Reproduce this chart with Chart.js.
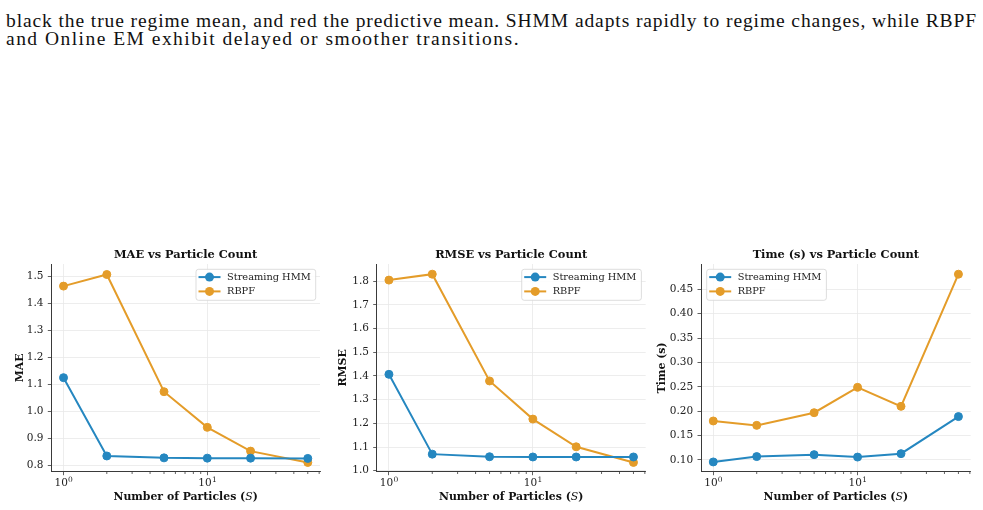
<!DOCTYPE html>
<html><head><meta charset="utf-8">
<script src="https://cdn.jsdelivr.net/npm/chart.js@4"></script>
<style>
html,body{margin:0;padding:0;background:#fff;}
body{width:983px;height:510px;overflow:hidden;position:relative;}
.cap{position:absolute;left:6px;font-family:"Liberation Serif","Times New Roman",serif;font-size:19.5px;line-height:20px;color:#111;white-space:nowrap;}
#l1{top:11px;}
#l2{top:28.5px;}
canvas{position:absolute;top:240px;}
</style></head><body>
<div class="cap" id="l1" data-w="971">black the true regime mean, and red the predictive mean. SHMM adapts rapidly to regime changes, while RBPF</div>
<div class="cap" id="l2" data-w="514">and Online EM exhibit delayed or smoother transitions.</div>
<canvas id="c1" width="330" height="270" style="left:0px"></canvas>
<canvas id="c2" width="325" height="270" style="left:330px"></canvas>
<canvas id="c3" width="328" height="270" style="left:655px"></canvas>
<script>
// ---------- data ----------
const particles = [1, 2, 5, 10, 20, 50];
const seriesNames = ['Streaming HMM', 'RBPF'];
const maeSHMM  = [1.126, 0.836, 0.829, 0.828, 0.828, 0.827];
const maeRBPF  = [1.465, 1.508, 1.074, 0.942, 0.854, 0.812];
const rmseSHMM = [1.407, 1.070, 1.059, 1.058, 1.058, 1.058];
const rmseRBPF = [1.805, 1.830, 1.379, 1.218, 1.101, 1.035];
const timeSHMM = [0.096, 0.107, 0.111, 0.106, 0.113, 0.189];
const timeRBPF = [0.180, 0.171, 0.197, 0.249, 0.210, 0.481];
const maeTicks  = [0.8, 0.9, 1.0, 1.1, 1.2, 1.3, 1.4, 1.5];
const rmseTicks = [1.0, 1.1, 1.2, 1.3, 1.4, 1.5, 1.6, 1.7, 1.8];
const timeTicks = [0.10, 0.15, 0.20, 0.25, 0.30, 0.35, 0.40, 0.45];
const xMajorTicks = [1, 10];
const xTickBase = ['10', '10'];
const xTickExp = ['0', '1'];
const xMinorTicks = [2, 3, 4, 5, 6, 7, 8, 9, 20, 30, 40, 50, 60];
const titles = ['MAE vs Particle Count', 'RMSE vs Particle Count', 'Time (s) vs Particle Count'];
const yLabels = ['MAE', 'RMSE', 'Time (s)'];
const xLabelParts = ['Number of Particles (', 'S', ')'];

// ---------- caption fitting ----------
document.querySelectorAll('.cap').forEach(el => {
  const target = +el.dataset.w;
  const nat = el.getBoundingClientRect().width;
  const n = el.textContent.length;
  el.style.letterSpacing = ((target - nat) / n) + 'px';
});

// ---------- styling ----------
const BLUE = '#2587c0';
const ORANGE = '#e49c29';
const AXIS = '#3a3a3a';
const GRID = '#e9e9e9';
const FONT = '"DejaVu Serif", serif';

const panels = [
  {id:'c1', canvasLeft:0,   width:330, chartLeft:51.3,  chartRight:320,   yTitleC:19.8,  ymin:0.7778, ymax:1.5469, ticks:maeTicks,  dec:1, a:maeSHMM,  b:maeRBPF,  legend:'right'},
  {id:'c2', canvasLeft:330, width:325, chartLeft:376.7, chartRight:645.7, yTitleC:343.3, ymin:0.9958, ymax:1.873,  ticks:rmseTicks, dec:1, a:rmseSHMM, b:rmseRBPF, legend:'right'},
  {id:'c3', canvasLeft:655, width:328, chartLeft:701,   chartRight:970.7, yTitleC:661.8, ymin:0.076,  ymax:0.5019, ticks:timeTicks, dec:2, a:timeSHMM, b:timeRBPF, legend:'left'}
];
const TOP = 264, BOTTOM = 471.7, CANVAS_TOP = 240, CANVAS_H = 270;

const decor = {
  id: 'decor',
  afterDraw(chart, args, opts) {
    const {ctx, chartArea: a} = chart;
    const xs = chart.scales.x;
    ctx.save();
    // minor x ticks
    ctx.strokeStyle = AXIS; ctx.lineWidth = 0.8;
    xMinorTicks.forEach(v => {
      if (v < xs.min || v > xs.max) return;
      const px = xs.getPixelForValue(v);
      ctx.beginPath(); ctx.moveTo(px, a.bottom); ctx.lineTo(px, a.bottom + 2.3); ctx.stroke();
    });
    // major x tick labels with superscript exponent
    ctx.fillStyle = '#222'; ctx.textBaseline = 'alphabetic'; ctx.textAlign = 'left';
    xMajorTicks.forEach((v, i) => {
      const px = xs.getPixelForValue(v);
      ctx.font = '10.5px ' + FONT; const wb = ctx.measureText(xTickBase[i]).width;
      ctx.font = '7.5px ' + FONT; const we = ctx.measureText(xTickExp[i]).width;
      const x0 = px - (wb + we) / 2;
      ctx.font = '10.5px ' + FONT; ctx.fillText(xTickBase[i], x0, 246.3);
      ctx.font = '7.5px ' + FONT; ctx.fillText(xTickExp[i], x0 + wb + 0.3, 242.2);
    });
    // title
    ctx.fillStyle = '#111';
    ctx.font = 'bold 11.4px ' + FONT;
    ctx.textAlign = 'center'; ctx.textBaseline = 'middle';
    ctx.fillText(opts.title, (a.left + a.right) / 2, 14.6);
    // x label (mixed style)
    const fonts = ['bold 10.9px ' + FONT, 'italic 10.9px ' + FONT, 'bold 10.9px ' + FONT];
    let widths = xLabelParts.map((t, i) => { ctx.font = fonts[i]; return ctx.measureText(t).width; });
    let total = widths.reduce((s, w) => s + w, 0);
    let x = (a.left + a.right) / 2 - total / 2;
    ctx.textAlign = 'left';
    xLabelParts.forEach((t, i) => { ctx.font = fonts[i]; ctx.fillText(t, x, 257.5); x += widths[i]; });
    // legend
    const ds = chart.data.datasets;
    ctx.font = '9.8px ' + FONT;
    const tw = Math.max(...ds.map(d => ctx.measureText(d.label).width));
    const w = tw + 36, h = 31;
    const bx = opts.legend === 'right' ? a.right - 4.3 - w : a.left + 5.7;
    const by = a.top + 5.3;
    ctx.beginPath();
    ctx.roundRect(bx, by, w, h, 2.5);
    ctx.fillStyle = 'rgba(255,255,255,0.85)'; ctx.fill();
    ctx.strokeStyle = '#d4d4d4'; ctx.lineWidth = 0.8; ctx.stroke();
    ds.forEach((d, i) => {
      const yy = by + 7.8 + i * 14.3;
      ctx.strokeStyle = d.borderColor; ctx.lineWidth = 2;
      ctx.beginPath(); ctx.moveTo(bx + 2.5, yy); ctx.lineTo(bx + 24.5, yy); ctx.stroke();
      ctx.fillStyle = d.borderColor;
      ctx.beginPath(); ctx.arc(bx + 13.5, yy, 4.5, 0, Math.PI * 2); ctx.fill();
      ctx.fillStyle = '#222'; ctx.textAlign = 'left'; ctx.textBaseline = 'middle';
      ctx.fillText(d.label, bx + 31, yy + 0.5);
    });
    ctx.restore();
  }
};

panels.forEach((p, k) => {
  const yw = p.chartLeft - p.canvasLeft;
  const pr = p.canvasLeft + p.width - p.chartRight;
  const xh = CANVAS_TOP + CANVAS_H - BOTTOM;
  const yTitleFont = 10.9, lh = yTitleFont * 1.2;
  const mk = (vals, name, color) => ({
    label: name,
    data: particles.map((x, i) => ({x: x, y: vals[i]})),
    borderColor: color, backgroundColor: color,
    pointBackgroundColor: color, pointBorderColor: color,
    borderWidth: 2, pointRadius: 4, pointBorderWidth: 1, pointHoverRadius: 4,
    tension: 0, fill: false, clip: false
  });
  new Chart(document.getElementById(p.id), {
    type: 'line',
    data: { datasets: [mk(p.a, seriesNames[0], BLUE), mk(p.b, seriesNames[1], ORANGE)] },
    plugins: [decor],
    options: {
      responsive: false, animation: false, devicePixelRatio: 1,
      layout: { padding: { left: 0, right: pr, top: TOP - CANVAS_TOP, bottom: 0 } },
      plugins: {
        legend: { display: false }, title: { display: false }, tooltip: { enabled: false },
        decor: { title: titles[k], legend: p.legend }
      },
      scales: {
        x: {
          type: 'logarithmic', min: Math.pow(10, -0.085), max: Math.pow(10, 1.784),
          afterBuildTicks: s => { s.ticks = xMajorTicks.map(v => ({value: v, major: true})); },
          afterFit: s => { s.height = xh; },
          ticks: { display: false, autoSkip: false, maxRotation: 0 },
          grid: { color: GRID, lineWidth: 0.8, tickLength: 3.5, tickColor: AXIS, tickWidth: 0.8 },
          border: { display: true, color: AXIS, width: 1 }
        },
        y: {
          type: 'linear', min: p.ymin, max: p.ymax,
          afterBuildTicks: s => { s.ticks = p.ticks.map(v => ({value: v})); },
          afterFit: s => { s.width = yw; },
          ticks: {
            autoSkip: false, padding: 4.3, color: '#222',
            font: { family: FONT, size: 10.5 },
            callback: v => Number(v).toFixed(p.dec)
          },
          grid: { color: GRID, lineWidth: 0.8, tickLength: 3.5, tickColor: AXIS, tickWidth: 0.8 },
          border: { display: true, color: AXIS, width: 1 },
          title: {
            display: true, text: yLabels[k], color: '#111',
            font: { family: FONT, size: yTitleFont, weight: 'bold' },
            padding: { top: (p.yTitleC - p.canvasLeft) - lh / 2, bottom: 0 }
          }
        }
      }
    }
  });
});
</script>
</body></html>
